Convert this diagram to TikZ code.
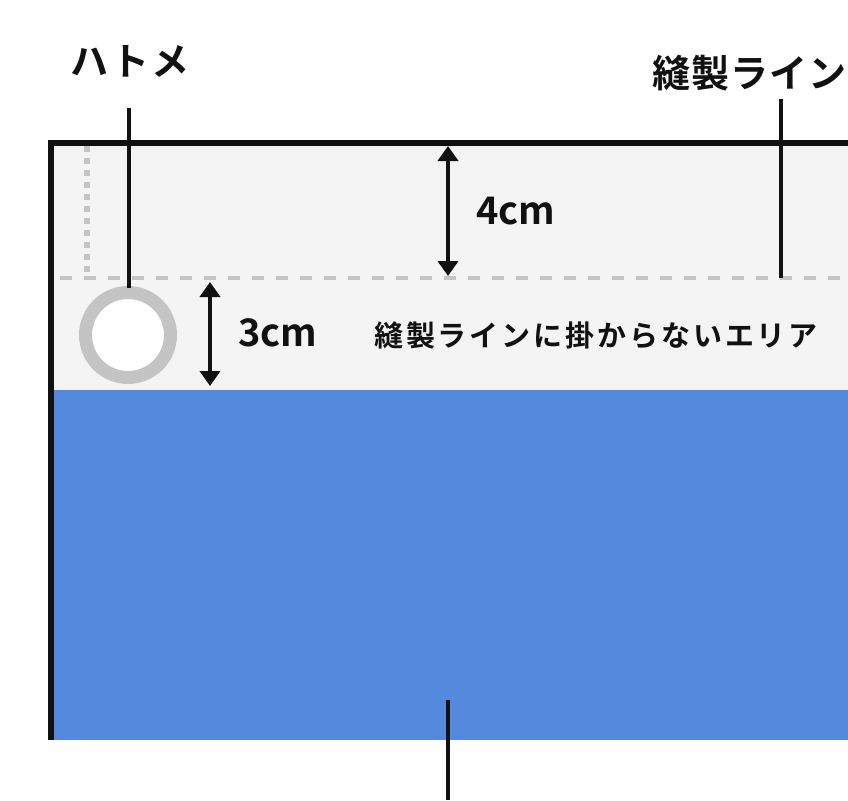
\documentclass[tikz,border=0pt]{standalone}
\usepackage{fontspec}
\usetikzlibrary{arrows.meta}
\newfontfamily\jpA[LetterSpace=6]{Noto Sans CJK JP Bold}
\newfontfamily\jpS[LetterSpace=3]{Noto Sans CJK JP Bold}
\newfontfamily\jpB[LetterSpace=10]{Noto Sans CJK JP Bold}
\newfontfamily\jpC{Noto Sans CJK JP Bold}
\definecolor{ink}{HTML}{111111}
\definecolor{paper}{HTML}{F4F4F4}
\definecolor{seam}{HTML}{C4C4C4}
\definecolor{banner}{HTML}{5589DE}
\tikzset{
  lbl/.style={inner sep=0pt, text=ink},
  leader/.style={draw=ink, line width=4pt},
  dim/.style={draw=ink, line width=4pt, {Triangle[width=20pt,length=15pt]}-{Triangle[width=20pt,length=15pt]}},
  frameline/.style={draw=ink, line width=6pt},
}
\begin{document}
\begin{tikzpicture}[x=1pt,y=-1pt]
\useasboundingbox (0,0) rectangle (848,800);
% areas
\fill[paper] (54,146) rectangle (848,390);
\fill[banner] (54,390) rectangle (848,740);
% seam guides
\draw[seam, line width=6pt, dash pattern=on 6pt off 6pt] (87,146) -- (87,272);
\draw[seam, line width=4pt, dash pattern=on 12pt off 12pt] (60,278) -- (848,278);
% frame
\draw[frameline] (48,143) -- (848,143);
\draw[frameline] (51,140) -- (51,740);
% grommet
\node[circle, draw=seam, fill=white, line width=13pt, minimum size=85pt, inner sep=0pt] (ring) at (128,335) {};
% labels
\node[lbl, font=\jpA\fontsize{38}{40}\selectfont] (hatome) at (130,61) {ハトメ};
\node[lbl, font=\jpS\fontsize{38}{42}\selectfont, anchor=west] (seamlbl) at (652,73) {縫製ライン};
\node[lbl, font=\jpB\fontsize{29}{32}\selectfont] (area) at (596,335) {縫製ラインに掛からないエリア};
\node[lbl, font=\jpC\fontsize{38}{42}\selectfont] (four) at (516,211) {4cm};
\node[lbl, font=\jpC\fontsize{38}{42}\selectfont] (three) at (278,333) {3cm};
% leaders
\coordinate (hatA) at (129,108);
\coordinate (hatB) at (129,288);
\draw[leader] (hatA) -- (hatB);
\coordinate (seamA) at (781,99);
\coordinate (seamB) at (781,278);
\draw[leader] (seamA) -- (seamB);
\coordinate (botA) at (448,700);
\coordinate (botB) at (448,800);
\draw[leader] (botA) -- (botB);
% dimensions
\coordinate (d4a) at (448,146);
\coordinate (d4b) at (448,276);
\draw[dim] (d4a) -- (d4b);
\coordinate (d3a) at (210,282);
\coordinate (d3b) at (210,386);
\draw[dim] (d3a) -- (d3b);
\end{tikzpicture}
\end{document}
